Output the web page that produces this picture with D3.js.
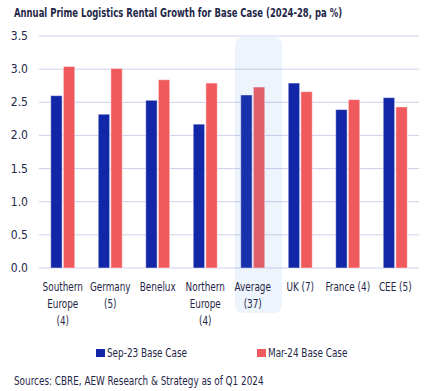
<!DOCTYPE html>
<meta charset="utf-8">
<style>
  body { margin: 0; background: #fff; }
  text { font-family: "DejaVu Sans Condensed", "Liberation Sans", sans-serif; fill: #1f2748; }
</style>
<body>
<script src="https://cdn.jsdelivr.net/npm/d3@7"></script>
<script>
  // categories and values
  var categories = [["Southern", "Europe", "(4)"], ["Germany", "(5)"], ["Benelux"], ["Northern", "Europe", "(4)"],
                    ["Average", "(37)"], ["UK (7)"], ["France (4)"], ["CEE (5)"]];
  var sep23 = [2.60, 2.32, 2.53, 2.17, 2.61, 2.79, 2.39, 2.57];
  var mar24 = [3.04, 3.01, 2.84, 2.79, 2.73, 2.66, 2.54, 2.43];
  var yTicks = [0, 0.5, 1, 1.5, 2, 2.5, 3, 3.5];
  var seriesNames = ["Sep-23 Base Case", "Mar-24 Base Case"];
  var colors = ["#1226a8", "#f05a5d"];

  var W = 429, H = 391;
  var squeeze = 0.82; // reference font is narrower than what we have
  var svg = d3.select("body").append("svg").attr("width", W).attr("height", H);

  function narrow(sel) {
    sel.each(function() {
      var len = this.getComputedTextLength();
      d3.select(this).attr("textLength", len * squeeze).attr("lengthAdjust", "spacingAndGlyphs");
    });
  }

  var x = d3.scaleBand().domain(d3.range(categories.length)).range([39, 419]);
  var xs = d3.scaleBand().domain([0, 1]).range([0, 24]).paddingInner(0.1);
  var y = d3.scaleLinear().domain([0, 3.5]).range([268, 36]);

  svg.append("text").attr("x", 14).attr("y", 17)
    .style("font-size", "11.5px").style("font-weight", "bold")
    .text("Annual Prime Logistics Rental Growth for Base Case (2024-28, pa %)")
    .attr("textLength", 328).attr("lengthAdjust", "spacingAndGlyphs");

  // grid
  svg.append("g").selectAll("line").data(yTicks).join("line")
    .attr("x1", 39).attr("x2", 419)
    .attr("y1", function(d){ return y(d); }).attr("y2", function(d){ return y(d); })
    .style("stroke", "#cdd1ec").style("stroke-width", 1);

  svg.append("g").selectAll("text").data(yTicks).join("text")
    .attr("x", 28).attr("y", function(d){ return y(d) + 4; })
    .attr("text-anchor", "end").style("font-size", "12px")
    .text(d3.format(".1f"));

  var off = (x.bandwidth() - 24) / 2;
  [sep23, mar24].forEach(function(vals, s) {
    svg.append("g").selectAll("rect").data(vals).join("rect")
      .attr("x", function(d, i){ return x(i) + off + xs(s); })
      .attr("width", xs.bandwidth())
      .attr("y", function(d){ return y(d); })
      .attr("height", function(d){ return y(0) - y(d); })
      .style("fill", colors[s])
      .style("stroke", "rgba(255,255,255,0.45)").style("stroke-width", 1);
  });

  // highlight of the average column, drawn on top
  svg.append("rect")
    .attr("x", x(4) + 6).attr("width", 47)
    .attr("y", 37).attr("height", 276).attr("rx", 8)
    .style("fill", "rgb(90,150,220)").style("fill-opacity", 0.1);

  // category labels
  categories.forEach(function(lines, i) {
    var cx = x(i) + x.bandwidth() / 2;
    var t = svg.append("text").attr("x", cx).attr("y", 291)
      .attr("text-anchor", "middle").style("font-size", "12px");
    lines.forEach(function(l, j) {
      t.append("tspan").attr("x", cx).attr("dy", j ? 17 : 0).text(l);
    });
    narrow(t.selectAll("tspan"));
  });

  // legend
  var lx = [96, 257];
  seriesNames.forEach(function(n, s) {
    svg.append("rect").attr("x", lx[s]).attr("y", 349).attr("width", 9).attr("height", 8).style("fill", colors[s]);
    svg.append("text").attr("x", lx[s] + 11).attr("y", 357).style("font-size", "12px").text(n).call(narrow);
  });

  svg.append("text").attr("x", 14).attr("y", 385).style("font-size", "12px")
    .text("Sources: CBRE, AEW Research & Strategy as of Q1 2024").call(narrow);
</script>
</body>
